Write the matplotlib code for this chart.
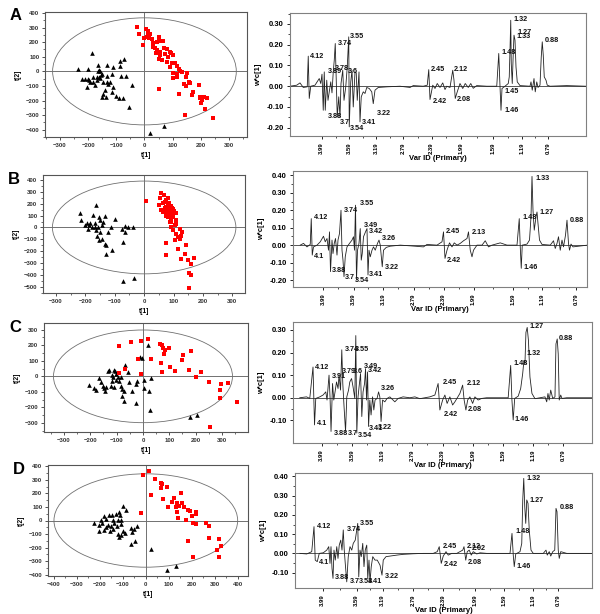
import matplotlib
matplotlib.use('Agg')
import matplotlib.pyplot as plt
from matplotlib.patches import Ellipse
from matplotlib.ticker import MultipleLocator, FixedLocator

plt.rcParams['font.family'] = ['Liberation Sans', 'DejaVu Sans']

# ---------------- score plots (t[1] vs t[2]) ----------------
a_red_t1 = [-27, -18, 6, 13, 14, 20, -1, -6, 8, 17, 26, 32, 44, 53, 65, 50, 30, 38, 46, 56, 68, 79, 91, 42, 56, 74, 85, 94, 103, 50,
            64, 79, 97, 109, 115, 91, 121, 127, 103, 115, 133, 117, 103, 151, 146, 139, 146, 157, 163, 174, 168, 192, 196, 198, 204,
            202, 210, 222, 216, 121, 53, 243, 145]
a_red_t2 = [301, 257, 290, 280, 262, 253, 228, 182, 239, 228, 221, 193, 198, 205, 211, 234, 170, 159, 147, 136, 159, 152, 136, 124,
            113, 120, 101, 129, 113, 83, 78, 67, 55, 60, 37, 32, 14, 5, -9, -18, -2, -37, -48, -14, -41, -87, -97, -71, -78, -140,
            -163, -94, -175, -186, -198, -216, -175, -186, -255, -156, -124, -317, -301]
a_blk_t1 = [-187, -235, -199, -166, -162, -158, -132, -110, -87, -71, -87, -65, -84, -116, -134, -149, -162, -181, -196, -211,
            -223, -203, -181, -176, -167, -158, -146, -134, -128, -122, -111, -140, -146, -137, -152, -116, -101, -92, -77, -45,
            -55, -193, -170, -155, 18, 71, -164, -199]
a_blk_t2 = [124, 14, 14, 44, 9, 5, 44, 32, 74, 83, 37, -30, -30, -18, -30, -18, -37, -37, -60, -53, -53, -110, -71, -94, -60,
            -48, -71, -71, -87, -74, -110, -129, -156, -179, -175, -140, -170, -182, -182, -94, -244, -71, -41, -25, -423, -377,
            5, -55]

b_red_t1 = [5, 59, 68, 53, 74, 82, 85, 51, 65, 76, 90, 82, 93, 99, 108, 70, 65, 76, 88, 99, 110, 88, 105, 93, 122, 130, 110,
            127, 122, 105, 76, 116, 139, 144, 124, 150, 158, 170, 153, 161, 152, 74, 59, 70, 97, 82, 93, 99, 116,
            80, 85, 95, 72, 100, 78, 92, 110]
b_red_t2 = [222, 287, 273, 245, 231, 245, 202, 188, 202, 174, 180, 146, 132, 152, 118, 132, 132, 96, 104, 90, 62, 48, 20, 0,
            -17, -37, -51, -73, -101, -107, -129, -177, -219, -149, -267, -270, -304, -256, -382, -402, -506, -228, 146, 160,
            104, 90, 48, -22, -84, 195, 170, 160, 215, 140, 120, 75, 30]
b_blk_t1 = [-219, -214, -195, -186, -184, -177, -191, -163, -174, -153, -134, -151, -140, -168, -163, -151, -160, -155, -145,
            -134, -131, -109, -131, -123, -114, -100, -76, -66, -55, -38, -65, -72, -72, -34, -202, -168, -142, -157]
b_blk_t2 = [118, 62, 34, 20, 39, 0, -17, 188, 104, 90, 98, 62, 48, 6, -22, -37, -73, -107, -93, -135, -149, -191, -225, -37,
            0, 67, -17, 11, 0, 0, -42, -124, -453, -425, 20, 39, 20, 0]

c_red_t1 = [-92, -91, -44, -9, 19, -19, 32, 66, 73, 76, 82, 99, 80, 67, 72, 104, 123, -9, -68, 152, 149, 181, 175, 203, 219,
            251, 297, 291, 291, 323, 357, 253]
c_red_t2 = [21, 197, 221, 229, 242, 111, 114, 208, 199, 182, 167, 180, 146, 86, 26, 58, 32, 17, 49, 135, 105, 161, 43, -4, 28,
            -34, -49, -86, -139, -41, -163, -324]
c_blk_t1 = [-205, -186, -177, -168, -158, -152, -148, -144, -133, -129, -110, -108, -101, -95, -114, -123, -110, -116, -104,
            -91, -85, -78, -73, -80, -71, -70, -57, -53, -41, -28, -22, -13, -4, 19, 3, 4, 23, 29, -28, 25, 177, 205, -82,
            -116, -139]
c_blk_t2 = [-56, -77, -86, -11, -39, -60, -77, -94, 36, 41, 41, 32, 17, -4, -6, -64, -69, -30, -21, -28, -60, -81, -96, -126,
            -159, 75, 26, -36, -96, -47, -28, 124, 118, 199, -26, -75, -96, -13, -171, -219, -261, -249, -4, 11, -69]

d_red_t1 = [-12, 12, 39, 68, 69, 65, 94, 22, 77, 123, 152, 113, 134, 97, 133, 144, 156, 166, 185, 191, 137, 141, 173, 202,
            217, 218, 206, 219, 263, 274, 274, 183, 205, 318, 329, 310, 318, -19]
d_red_t2 = [337, 363, 305, 280, 266, 239, 244, 188, 159, 166, 200, 134, 129, 100, 100, 105, 129, 100, 80, 68, 63, 17, 7, 32,
            61, 49, -20, -29, -15, -41, -127, -151, -266, -134, -188, -220, -268, 56]
d_blk_t1 = [-98, -87, -118, -131, -147, -159, -183, -195, -224, -202, -191, -173, -166, -152, -137, -127, -144, -123, -118,
            -108, -98, -90, -65, -61, -53, -40, -45, -65, 22, 94, 130, -113, -173, -144, -123, -108, -108, -156, -202, -183]
d_blk_t2 = [110, 80, 66, 51, 37, 37, 32, 2, -22, -34, -22, -46, -32, -41, -17, -41, -66, -98, -120, -110, -78, -90, -59, -85,
            -66, -41, -154, -176, -212, -366, -334, 41, 12, 7, 7, 2, -29, -76, -78, -71]

# ellipse half axes (Hotelling T2) per panel
ell_a = [326, 312, 340, 400]
ell_b = [367, 390, 298, 345]

# ---------------- loading plots (w*c[1] vs Var ID) ----------------
ppm_ticks = ['3.99', '3.59', '3.19', '2.79', '2.39', '1.99', '1.59', '1.19', '0.79']

a_var = [0, 27, 40, 53, 69, 73, 77, 83, 100, 117, 123, 128, 133, 137, 141, 147, 152, 157, 163, 168, 173, 177, 181, 185, 189,
         195, 200, 204, 211, 216, 223, 229, 235, 237, 243, 248, 253, 260, 265, 269, 276, 280, 285, 293, 300, 307, 317, 327,
         333, 340, 353, 387, 440, 480, 493, 533, 549, 555, 560, 571, 580, 589, 600, 611, 620, 627, 640, 651, 656, 661, 669,
         680, 691, 701, 713, 723, 733, 747, 787, 827, 835, 840, 844, 848, 860, 873, 877, 880, 883, 885, 889, 893, 896, 900,
         904, 909, 920, 960, 964, 969, 976, 981, 987, 992, 1000, 1005, 1009, 1013, 1017, 1024, 1029, 1040, 1107, 1183]
a_w = [0, 0.005, 0.016, -0.006, -0.003, 0.145, -0.059, 0, 0.005, 0.037, 0.013, 0.058, -0.116, 0.069, -0.116, 0.029, -0.068,
       -0.027, 0.021, -0.032, 0.069, 0.125, 0.206, 0.029, -0.148, -0.051, -0.148, 0.013, 0.077, -0.068, -0.003, 0.093, 0.238,
       -0.196, 0.021, 0.077, -0.1, 0.069, 0.064, -0.068, 0.069, -0.172, -0.051, -0.027, -0.035, -0.006, -0.011, -0.027,
       -0.084, -0.019, -0.006, -0.003, 0, -0.006, 0.003, 0, 0.005, 0.08, -0.064, 0.005, -0.011, 0.013, -0.006, 0.016,
       -0.016, 0, -0.006, 0.077, 0.029, -0.059, -0.027, 0.013, -0.011, 0.013, -0.006, 0.013, -0.01, 0.003, 0, 0, 0.158, 0,
       -0.116, -0.011, 0, 0.013, 0.045, 0.174, 0.318, 0.109, 0.013, 0.158, 0.246, 0.222, 0.093, 0.021, 0.003, 0, 0.021,
       -0.019, 0.037, -0.027, 0.021, -0.006, 0.005, 0.141, 0.214, 0.15, 0.045, 0.029, 0.005, 0, 0.003, 0]
a_tick_var = [127, 237, 344, 453, 567, 684, 813, 927, 1033]
a_lbl = ['4.12', '3.74', '3.55', '3.89', '3.78', '3.6', '3.88', '3.7', '3.54', '3.41', '3.22', '2.45', '2.42', '2.12',
         '2.08', '1.48', '1.45', '1.46', '1.32', '1.27', '1.33', '0.88']
a_lbl_var = [80, 193, 240, 153, 180, 233, 153, 200, 240, 287, 347, 563, 571, 656, 669, 847, 856, 856, 893, 909, 907, 1020]
a_lbl_w = [0.145, 0.206, 0.238, 0.069, 0.085, 0.069, -0.148, -0.175, -0.204, -0.175, -0.132, 0.08, -0.072, 0.08, -0.063,
           0.161, -0.027, -0.116, 0.323, 0.259, 0.238, 0.219]

b_var = [29, 42, 56, 69, 73, 77, 82, 96, 109, 122, 129, 136, 142, 146, 150, 156, 160, 165, 170, 176, 180, 186, 192, 196, 200,
         204, 209, 216, 226, 236, 242, 246, 250, 254, 258, 264, 269, 273, 277, 282, 290, 296, 300, 304, 309, 316, 322, 329,
         338, 344, 349, 357, 362, 373, 389, 429, 469, 522, 536, 576, 596, 602, 608, 616, 626, 636, 645, 656, 669, 682, 696,
         702, 709, 716, 722, 736, 756, 769, 782, 796, 829, 856, 896, 905, 909, 913, 917, 936, 946, 952, 956, 960, 965, 972,
         976, 980, 986, 996, 1029, 1042, 1049, 1056, 1062, 1069, 1076, 1082, 1090, 1096, 1102, 1106, 1112, 1120, 1178]
b_w = [0, 0.01, -0.01, 0.004, 0.152, -0.057, -0.01, 0, 0.019, 0.051, 0.019, 0.038, -0.029, 0.076, -0.152, 0.029, -0.048,
       0.01, 0.038, -0.057, 0.029, 0.067, 0.2, -0.029, -0.086, -0.181, -0.067, -0.01, 0.01, 0.029, 0.048, -0.029, 0.229,
       -0.2, -0.029, 0.01, 0.095, -0.086, -0.048, 0.048, 0.076, 0.095, -0.171, -0.029, -0.067, -0.029, -0.01, -0.029, 0.01,
       0.029, 0, -0.124, -0.029, -0.013, -0.006, 0, -0.004, -0.01, 0.004, 0, 0.019, 0.076, -0.076, -0.029, 0.013, -0.01,
       0.013, 0, 0.01, 0.025, 0.038, 0.076, -0.029, -0.067, -0.029, 0, 0, 0.025, -0.01, 0, 0.013, 0, 0, 0.152, -0.01,
       -0.133, 0, 0.006, 0.029, 0.162, 0.394, 0.2, 0.086, 0.162, 0.19, 0.124, 0.029, 0.004, 0, 0.025, -0.019, 0.01, 0.048,
       -0.029, 0.029, -0.01, 0.057, 0.143, 0.01, -0.029, 0.006, -0.01, 0]
b_tick_var = [120, 242, 360, 482, 602, 722, 880, 996, 1133]
b_lbl = ['4.12', '4.1', '3.74', '3.55', '3.49', '3.42', '3.26', '3.88', '3.7', '3.54', '3.41', '3.22', '2.45', '2.42',
         '2.13', '1.48', '1.46', '1.33', '1.27', '0.88']
b_lbl_var = [82, 85, 202, 266, 282, 302, 356, 156, 209, 246, 302, 369, 613, 616, 716, 916, 920, 969, 986, 1106]
b_lbl_w = [0.156, -0.063, 0.2, 0.238, 0.114, 0.08, 0.038, -0.147, -0.185, -0.2, -0.171, -0.128, 0.08, -0.086, 0.07, 0.156,
           -0.128, 0.381, 0.187, 0.143]

c_var = [27, 54, 67, 80, 86, 91, 107, 120, 131, 136, 144, 148, 152, 158, 163, 168, 174, 180, 184, 190, 195, 199, 204, 210,
         215, 222, 227, 234, 240, 247, 251, 255, 260, 264, 270, 275, 280, 286, 290, 294, 298, 302, 307, 312, 318, 323, 328,
         336, 342, 347, 352, 358, 367, 376, 387, 407, 420, 440, 467, 487, 507, 547, 567, 580, 587, 598, 607, 616, 627, 638,
         647, 667, 678, 684, 691, 698, 707, 718, 727, 740, 754, 774, 814, 860, 870, 875, 880, 886, 900, 910, 918, 923, 927,
         931, 936, 941, 947, 955, 967, 987, 1007, 1014, 1019, 1024, 1030, 1038, 1047, 1051, 1056, 1060, 1064, 1070, 1075,
         1094, 1195]
c_w = [0, 0.004, -0.003, 0.136, -0.12, -0.003, 0.004, 0.012, 0.026, -0.01, 0.1, 0.004, -0.149, 0.063, -0.01, 0.026, 0.07,
       0.041, 0.1, 0.034, 0.212, 0.063, -0.039, -0.149, 0.004, 0.034, 0.07, 0.085, 0.048, -0.003, 0.275, -0.156, 0.004,
       0.048, 0.107, -0.083, 0.026, 0.063, 0.129, -0.01, 0.114, -0.127, -0.01, -0.076, 0.004, -0.054, -0.01, -0.003, 0.026,
       0.004, -0.105, -0.01, -0.018, -0.003, 0.004, -0.018, -0.003, 0.004, 0, 0.004, -0.004, 0.004, 0.012, 0.063, -0.054,
       -0.01, 0.012, -0.025, 0.004, -0.032, -0.018, 0.019, 0.056, -0.01, -0.054, -0.01, 0.004, -0.025, 0.004, -0.01, -0.003,
       0, 0, 0, 0.143, -0.01, -0.098, -0.003, 0.007, 0.041, 0.107, 0.165, 0.151, 0.289, 0.311, 0.253, 0.092, 0.019, -0.004,
       0, 0.004, -0.018, 0.019, -0.01, 0.034, -0.003, 0.004, 0.238, 0.26, 0.194, -0.01, 0.012, -0.003, 0, 0]
c_tick_var = [114, 236, 356, 476, 598, 718, 838, 958, 1080]
c_lbl = ['4.12', '4.1', '3.91', '3.79', '3.6', '3.74', '3.55', '3.49', '3.42', '3.26', '3.88', '3.7', '3.54', '3.41',
         '3.22', '2.45', '2.42', '2.12', '2.08', '1.48', '1.46', '1.27', '1.32', '0.88']
c_lbl_var = [87, 94, 156, 194, 238, 207, 247, 283, 300, 350, 164, 220, 260, 304, 340, 598, 603, 694, 700, 883, 887, 944,
             934, 1064]
c_lbl_w = [0.136, -0.115, 0.095, 0.114, 0.114, 0.213, 0.213, 0.14, 0.121, 0.041, -0.156, -0.156, -0.167, -0.134, -0.132,
           0.066, -0.072, 0.063, -0.054, 0.15, -0.098, 0.314, 0.194, 0.26]

d_var = [20, 47, 67, 76, 81, 89, 97, 113, 127, 135, 140, 144, 148, 152, 156, 161, 167, 172, 177, 183, 188, 193, 197, 201,
         207, 213, 220, 227, 233, 241, 247, 251, 255, 260, 265, 271, 276, 281, 287, 291, 296, 300, 305, 311, 320, 329, 340,
         348, 353, 364, 380, 407, 433, 473, 513, 553, 569, 577, 585, 593, 604, 613, 627, 647, 671, 676, 683, 689, 697, 705,
         713, 727, 740, 767, 807, 860, 868, 873, 877, 883, 900, 907, 911, 915, 919, 923, 927, 932, 937, 944, 953, 993, 1004,
         1009, 1017, 1023, 1031, 1039, 1044, 1048, 1053, 1057, 1063, 1087, 1167, 1187]
d_w = [0, -0.003, 0.009, 0.139, -0.035, -0.043, 0, 0.003, 0.017, 0.035, -0.052, 0.035, -0.078, -0.13, 0.017, -0.035, 0.035,
       -0.026, 0.043, 0.069, 0.017, 0.122, 0.017, -0.052, -0.148, -0.017, 0.035, 0.017, 0.052, 0.069, 0.122, 0.156, -0.122,
       0.017, -0.017, 0.052, -0.069, 0.017, 0.043, -0.13, -0.035, -0.148, -0.069, -0.017, -0.035, -0.035, -0.061, -0.113,
       -0.035, -0.017, -0.014, -0.009, -0.005, -0.002, 0, 0, 0.009, 0.035, -0.052, -0.014, 0.009, -0.009, 0, 0, 0.017, 0.035,
       -0.035, 0.009, 0.017, -0.009, 0.009, -0.003, 0.003, 0, 0, 0, 0.104, -0.009, -0.069, -0.003, 0.009, 0.052, 0.278, 0.39,
       0.243, 0.156, 0.278, 0.26, 0.122, 0.017, 0, 0, 0.017, -0.009, 0.009, -0.014, 0.009, 0.017, 0.234, 0.217, 0.017,
       -0.026, 0.009, 0, 0, 0]
d_tick_var = [111, 247, 351, 473, 593, 720, 836, 953, 1053]
d_lbl = ['4.12', '4.1', '3.74', '3.55', '3.88', '3.7', '3.54', '3.41', '3.22', '2.45', '2.42', '2.12', '2.02', '2.08',
         '1.48', '1.46', '1.32', '1.27', '0.88']
d_lbl_var = [87, 97, 207, 260, 160, 220, 257, 293, 360, 593, 596, 687, 707, 693, 880, 887, 927, 937, 1057]
d_lbl_w = [0.142, -0.047, 0.122, 0.156, -0.127, -0.148, -0.148, -0.148, -0.122, 0.035, -0.057, 0.035, 0.024, -0.047, 0.116,
           -0.066, 0.39, 0.274, 0.24]

W, H = 600, 614
fig = plt.figure(figsize=(W / 100, H / 100), dpi=100)


def px_axes(l, t, r, b):
    return fig.add_axes([l / W, 1 - b / H, (r - l) / W, (b - t) / H])


def style_frame(ax, color):
    for s in ax.spines.values():
        s.set_color(color)
        s.set_linewidth(0.8)


def score_panel(box, letter, red, blk, ea, eb, xlim, ylim, xmaj, ymaj):
    ax = px_axes(*box)
    ax.add_patch(Ellipse((0, 0), 2 * ea, 2 * eb, fill=False, ec='#707070', lw=0.6))
    ax.axhline(0, color='#707070', lw=0.7, zorder=1)
    ax.axvline(0, color='#707070', lw=0.7, zorder=1)
    ax.scatter(blk[0], blk[1], marker='^', s=11, c='black', lw=0, zorder=3)
    ax.scatter(red[0], red[1], marker='s', s=10, c='#ff0000', lw=0, zorder=3)
    ax.set_xlim(*xlim)
    ax.set_ylim(*ylim)
    ax.xaxis.set_major_locator(MultipleLocator(xmaj))
    ax.yaxis.set_major_locator(MultipleLocator(ymaj))
    ax.xaxis.set_minor_locator(MultipleLocator(xmaj / 2))
    ax.yaxis.set_minor_locator(MultipleLocator(ymaj / 2))
    ax.tick_params(which='major', length=2.5, width=0.6, labelsize=4.3, pad=1.5, colors='#333333')
    ax.tick_params(which='minor', length=1.3, width=0.5, colors='#333333')
    for lab in ax.get_xticklabels() + ax.get_yticklabels():
        lab.set_fontweight('bold')
    ax.set_xlabel('t[1]', fontsize=4.8, fontweight='bold', labelpad=3)
    ax.set_ylabel('t[2]', fontsize=4.8, fontweight='bold', labelpad=3)
    style_frame(ax, '#555555')
    fig.text((box[0] - 35) / W, 1 - (box[1] + 4) / H, letter, fontsize=12, fontweight='bold', ha='left', va='center')
    return ax


def loading_panel(box, var, w, ticks, lbl, lbl_var, lbl_w, xmax, ylim, yticks):
    ax = px_axes(*box)
    ax.axhline(0, color='#555555', lw=0.7, zorder=1)
    ax.plot(var, w, color='#222222', lw=0.6, zorder=2)
    for t, x, y in zip(lbl, lbl_var, lbl_w):
        ax.text(x, y, t, fontsize=5.2, fontweight='bold', ha='left', va='center', color='#111111', zorder=4)
    ax.set_xlim(0, xmax)
    ax.set_ylim(*ylim)
    ax.xaxis.set_major_locator(FixedLocator(ticks))
    ax.set_xticklabels(ppm_ticks, rotation=90)
    minor = [(ticks[i] + ticks[i + 1]) / 2 for i in range(len(ticks) - 1)]
    ax.xaxis.set_minor_locator(FixedLocator(minor))
    ax.yaxis.set_major_locator(FixedLocator(yticks))
    ax.yaxis.set_minor_locator(FixedLocator([y + 0.05 for y in yticks]))
    ax.set_yticklabels(['%.2f' % y for y in yticks])
    ax.tick_params(axis='x', which='major', length=2.5, width=0.6, labelsize=4.2, pad=2)
    ax.tick_params(axis='y', which='major', length=2.5, width=0.6, labelsize=5.5, pad=2)
    ax.tick_params(which='minor', length=1.3, width=0.5)
    for lab in ax.get_xticklabels() + ax.get_yticklabels():
        lab.set_fontweight('bold')
    ax.set_xlabel('Var ID (Primary)', fontsize=5.5, fontweight='bold', labelpad=1)
    ax.set_ylabel('w*c[1]', fontsize=5.5, fontweight='bold', labelpad=3)
    style_frame(ax, '#808080')
    return ax


score_panel((45, 12, 247, 137), 'A', (a_red_t1, a_red_t2), (a_blk_t1, a_blk_t2), ell_a[0], ell_b[0],
            (-353, 364), (-450, 407), 100, 100)
score_panel((43, 175, 245, 293), 'B', (b_red_t1, b_red_t2), (b_blk_t1, b_blk_t2), ell_a[1], ell_b[1],
            (-344, 343), (-551, 441), 100, 100)
score_panel((44, 323, 248, 432), 'C', (c_red_t1, c_red_t2), (c_blk_t1, c_blk_t2), ell_a[2], ell_b[2],
            (-376, 399), (-358, 343), 100, 100)
score_panel((48, 465, 248, 576), 'D', (d_red_t1, d_red_t2), (d_blk_t1, d_blk_t2), ell_a[3], ell_b[3],
            (-426, 445), (-410, 410), 100, 100)

loading_panel((290, 13, 586, 136), a_var, a_w, a_tick_var, a_lbl, a_lbl_var, a_lbl_w, 1184,
              (-0.24, 0.353), [-0.2, -0.1, 0.0, 0.1, 0.2, 0.3])
loading_panel((293, 171, 587, 287), b_var, b_w, b_tick_var, b_lbl, b_lbl_var, b_lbl_w, 1176,
              (-0.24, 0.425), [-0.2, -0.1, 0.0, 0.1, 0.2, 0.3, 0.4])
loading_panel((293, 322, 592, 443), c_var, c_w, c_tick_var, c_lbl, c_lbl_var, c_lbl_w, 1195,
              (-0.2, 0.335), [-0.1, 0.0, 0.1, 0.2, 0.3])
loading_panel((295, 473, 592, 588), d_var, d_w, d_tick_var, d_lbl, d_lbl_var, d_lbl_w, 1188,
              (-0.18, 0.418), [-0.1, 0.0, 0.1, 0.2, 0.3, 0.4])

fig.savefig('out.png', dpi=100)
